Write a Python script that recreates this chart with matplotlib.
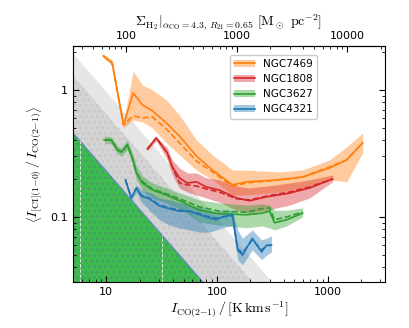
import numpy as np
import matplotlib
matplotlib.use("Agg")
import matplotlib.pyplot as plt
from matplotlib.ticker import FuncFormatter, NullFormatter, FixedLocator
from matplotlib.patches import Patch
from matplotlib.lines import Line2D

plt.rcParams["mathtext.fontset"] = "cm"
plt.rcParams["hatch.linewidth"] = 0.4

# --- data ------------------------------------------------------------------
names = ["NGC7469", "NGC1808", "NGC3627", "NGC4321"]
colors = ["#ff7f0e", "#d62728", "#2ca02c", "#1f77b4"]

ico_7469 = [9.4, 11.3, 14.3, 17.5, 21.2, 26.1, 34.9, 45.8, 65.2, 91, 138, 185, 368, 594, 1042, 1486, 2075]
med_7469 = [1.85, 1.63, 0.53, 0.947, 0.762, 0.684, 0.55, 0.434, 0.302, 0.234, 0.179, 0.189, 0.196, 0.206, 0.243, 0.281, 0.383]
mean_7469 = [1.85, 1.63, 0.53, 0.624, 0.602, 0.613, 0.493, 0.383, 0.276, 0.226, 0.175, 0.185, 0.196, 0.206, 0.248, 0.281, 0.383]
hi_7469 = [1.92, 1.72, 0.56, 1.41, 1.094, 1.0, 0.834, 0.635, 0.404, 0.308, 0.234, 0.234, 0.226, 0.234, 0.281, 0.356, 0.458]
lo_7469 = [1.79, 1.55, 0.502, 0.580, 0.560, 0.502, 0.383, 0.308, 0.234, 0.196, 0.149, 0.149, 0.157, 0.169, 0.196, 0.189, 0.319]

ico_1808 = [23.5, 28.3, 35.6, 39.5, 45.8, 54.1, 65.2, 80.3, 105, 150, 197, 281, 453, 687, 1110]
med_1808 = [0.343, 0.419, 0.319, 0.248, 0.203, 0.185, 0.189, 0.172, 0.163, 0.141, 0.134, 0.144, 0.154, 0.169, 0.199]
mean_1808 = [0.343, 0.419, 0.319, 0.248, 0.185, 0.179, 0.175, 0.166, 0.157, 0.139, 0.136, 0.146, 0.157, 0.172, 0.199]
hi_1808 = [0.356, 0.427, 0.349, 0.281, 0.243, 0.222, 0.222, 0.203, 0.196, 0.175, 0.169, 0.175, 0.185, 0.196, 0.214]
lo_1808 = [0.331, 0.397, 0.281, 0.214, 0.169, 0.157, 0.149, 0.141, 0.131, 0.113, 0.107, 0.113, 0.124, 0.141, 0.189]

ico_3627 = [9.6, 11.1, 12.6, 13.7, 15.5, 17.2, 18.7, 21.2, 26.1, 34.9, 48.7, 69.5, 105, 185, 253, 299, 331, 426, 594]
med_3627 = [0.404, 0.404, 0.337, 0.325, 0.369, 0.291, 0.222, 0.185, 0.163, 0.149, 0.131, 0.113, 0.106, 0.104, 0.107, 0.111, 0.090, 0.095, 0.107]
mean_3627 = [0.404, 0.404, 0.337, 0.325, 0.369, 0.291, 0.222, 0.190, 0.166, 0.152, 0.136, 0.120, 0.111, 0.109, 0.116, 0.118, 0.095, 0.100, 0.109]
hi_3627 = [0.434, 0.427, 0.362, 0.349, 0.404, 0.319, 0.252, 0.210, 0.185, 0.169, 0.152, 0.136, 0.129, 0.124, 0.127, 0.124, 0.113, 0.113, 0.118]
lo_3627 = [0.383, 0.376, 0.313, 0.302, 0.337, 0.266, 0.196, 0.163, 0.141, 0.129, 0.113, 0.091, 0.086, 0.082, 0.085, 0.082, 0.079, 0.085, 0.100]

ico_4321 = [14.9, 16.8, 18.7, 20.7, 24.5, 30.2, 37.2, 45.8, 56.3, 69.5, 85.5, 98.9, 112, 138, 154, 170, 209, 253, 281, 311]
med_4321 = [0.196, 0.141, 0.169, 0.146, 0.139, 0.122, 0.116, 0.111, 0.111, 0.104, 0.098, 0.095, 0.100, 0.104, 0.055, 0.050, 0.068, 0.053, 0.060, 0.060]
mean_4321 = [0.196, 0.141, 0.169, 0.148, 0.141, 0.124, 0.118, 0.113, 0.111, 0.106, 0.100, 0.098, 0.100, 0.102, 0.056, 0.052, 0.066, 0.055, 0.059, 0.060]
hi_4321 = [0.203, 0.146, 0.179, 0.163, 0.157, 0.141, 0.136, 0.129, 0.124, 0.120, 0.113, 0.109, 0.113, 0.113, 0.079, 0.068, 0.079, 0.066, 0.068, 0.071]
lo_4321 = [0.189, 0.136, 0.157, 0.131, 0.113, 0.095, 0.086, 0.082, 0.079, 0.076, 0.076, 0.079, 0.082, 0.086, 0.046, 0.042, 0.055, 0.046, 0.050, 0.053]

# sensitivity limits: ratio = C / I_CO
lim_green = 2.3
lim_dark = 6.5
lim_light = 9.7
vline_ico = [5.8, 32.0]

sigma_fac = 4.3 / 0.65
sigma_ticks = [100, 1000, 10000]

series = [
    (ico_7469, med_7469, mean_7469, lo_7469, hi_7469),
    (ico_1808, med_1808, mean_1808, lo_1808, hi_1808),
    (ico_3627, med_3627, mean_3627, lo_3627, hi_3627),
    (ico_4321, med_4321, mean_4321, lo_4321, hi_4321),
]

# --- plot -------------------------------------------------------------------
fig = plt.figure(figsize=(4.1, 3.28), dpi=100)
ax = fig.add_axes([0.178, 0.140, 0.761, 0.720])
ax.set_xscale("log")
ax.set_yscale("log")
ax.set_xlim(5, 3300)
ax.set_ylim(0.0307, 2.22)

xx = np.logspace(0, 4, 200)
ax.fill_between(xx, lim_dark / xx, lim_light / xx, color="#e6e6e6", lw=0, zorder=0)
ax.fill_between(xx, 1e-3, lim_dark / xx, facecolor="#d4d4d4", edgecolor="#c8c8c8",
                hatch="ooo", lw=0, zorder=0)
ax.fill_between(xx, 1e-3, lim_green / xx, facecolor="#3dbb4e", edgecolor="#44a060",
                hatch="ooo", lw=0, zorder=1)
ax.plot(xx, lim_green / xx, color="#6a7fd8", lw=0.7, zorder=1.5)
for xv in vline_ico:
    ax.plot([xv, xv], [1e-3, lim_green / xv], color="#d8eed8", ls="--", lw=0.7, zorder=1.5)

handles = []
for (ico, med, mean, lo, hi), c, n in zip(series, colors, names):
    ax.fill_between(ico, lo, hi, color=c, alpha=0.4, lw=0, zorder=2)
    ax.plot(ico, med, color=c, lw=1.2, zorder=3)
    ax.plot(ico, mean, color=c, lw=1.2, ls="--", zorder=3)
    handles.append((Patch(facecolor=c, alpha=0.4, lw=0), Line2D([], [], color=c, lw=1.2)))

fmt = FuncFormatter(lambda v, _: f"{v:g}")
ax.xaxis.set_major_formatter(fmt)
ax.yaxis.set_major_formatter(fmt)
ax.xaxis.set_minor_formatter(NullFormatter())
ax.yaxis.set_minor_formatter(NullFormatter())
ax.tick_params(which="both", direction="in", right=True, top=False, labelsize=8)
ax.tick_params(which="major", length=4)
ax.tick_params(which="minor", length=2)

ax.set_xlabel(r"$I_{\rm CO(2{-}1)}\,/\,[\rm K\,km\,s^{-1}]$", fontsize=10, labelpad=2)
ax.set_ylabel(r"$\left\langle I_{\rm [CI](1{-}0)}\,/\,I_{\rm CO(2{-}1)}\right\rangle$",
              fontsize=10, labelpad=4)

sec = ax.secondary_xaxis("top", functions=(lambda x: x * sigma_fac, lambda x: x / sigma_fac))
sec.xaxis.set_major_locator(FixedLocator(sigma_ticks))
sec.xaxis.set_major_formatter(fmt)
sec.xaxis.set_minor_formatter(NullFormatter())
sec.tick_params(which="both", direction="in", labelsize=8)
sec.tick_params(which="major", length=4)
sec.tick_params(which="minor", length=2)
sec.set_xlabel(r"$\Sigma_{\rm H_2}|_{\alpha_{\rm CO}=4.3,\,R_{21}=0.65}\ [\rm M_\odot\ pc^{-2}]$",
               fontsize=10, labelpad=4)

ax.legend(handles, names, loc="upper right", bbox_to_anchor=(0.80, 0.985),
          fontsize=7.5, handlelength=2.0, framealpha=1, edgecolor="#cccccc")

fig.savefig("out.png", dpi=100)
